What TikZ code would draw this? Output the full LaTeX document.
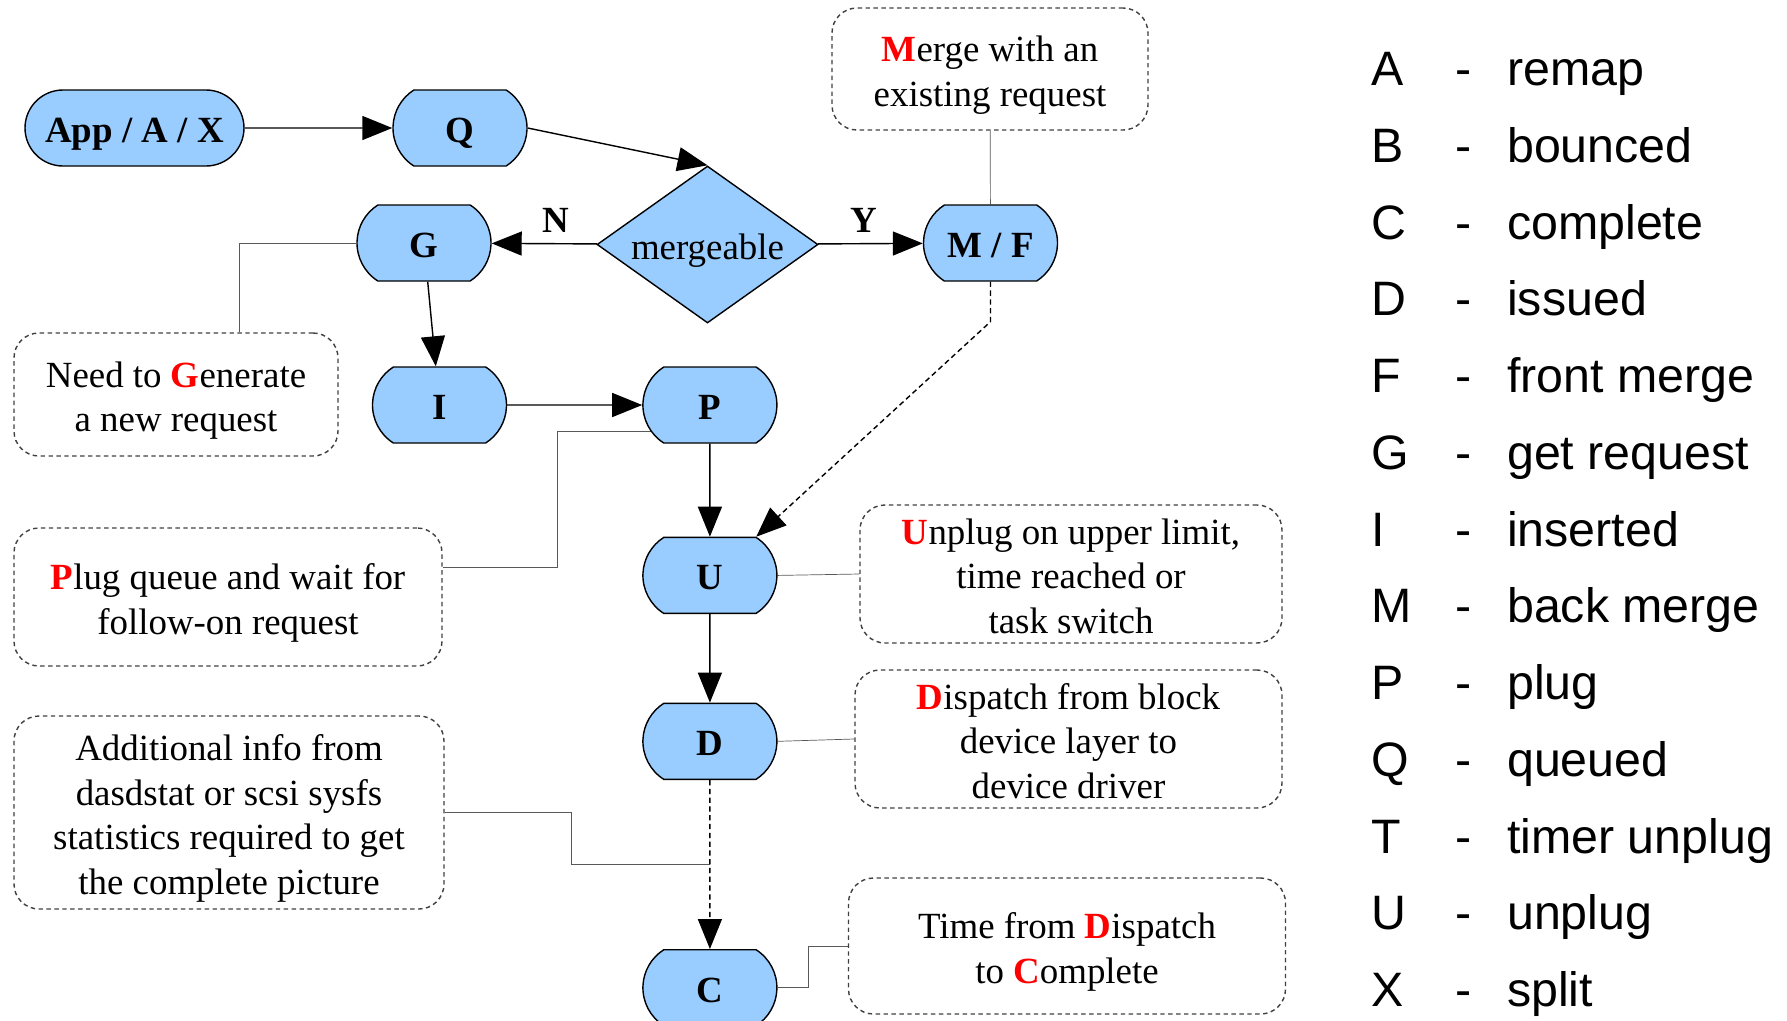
\documentclass[tikz,border=0pt]{standalone}
\usepackage{fontspec}
\setmainfont{Liberation Serif}
\newfontfamily\legendfont{Liberation Sans}
\usetikzlibrary{shapes.geometric,shapes.misc,arrows.meta,positioning,calc,backgrounds}
\definecolor{stateblue}{HTML}{99CCFF}
\newcommand{\hl}[1]{\textcolor{red}{\textbf{#1}}}
% lower the lines of a note a little inside its frame
\newcommand{\notetext}[1]{\raisebox{-0.12cm}[\height][\depth]{\begin{tabular}{@{}c@{}}#1\end{tabular}}}

\begin{document}
\begin{tikzpicture}[>={Triangle[length=0.6cm,width=0.48cm]}, line width=0.8pt,
    state/.style={draw=black, fill=stateblue, rounded rectangle,
                  rounded rectangle arc length=115, minimum width=2.68cm,
                  minimum height=1.52cm, inner sep=0pt,
                  text height=0.66cm, text depth=0.08cm,
                  font=\fontsize{21}{26}\selectfont\bfseries},
    decide/.style={draw=black, fill=stateblue, diamond, aspect=1.41,
                   minimum width=4.42cm, minimum height=3.14cm, inner sep=0pt,
                   text height=0.66cm, text depth=0.08cm,
                   font=\fontsize{21}{26}\selectfont},
    note/.style={draw=black!75, dash pattern=on 2.5pt off 2pt,
                 rounded corners=0.5cm, inner sep=0pt,
                 font=\fontsize{21}{25.5}\selectfont},
    link/.style={draw=black!65},
    legend/.style={font=\legendfont\fontsize{27.5}{32}\selectfont, inner sep=0pt}]
  \useasboundingbox (0,0) rectangle (35.74,-20.40);

  % main flow
  \node[state, rounded rectangle arc length=180, minimum width=4.38cm] (app)
    at (2.69,-2.56) {\makebox[2.86cm]{App / A / X}};
  \node[state] (Q) at (9.20,-2.56) {Q};
  \node[decide] (merge) at (14.15,-4.89) {mergeable};
  \node[state] (G) at (8.48,-4.86) {G};
  \node[state] (MF) at (19.81,-4.86) {M / F};
  \node[state] (I) at (8.79,-8.10) {I};
  \node[state, right=2.7cm of I] (P) {P};
  \node[state, below=1.86cm of P] (U) {U};
  \node[state, below=1.77cm of U] (D) {D};
  \node[state, below=3.38cm of D] (C) {C};
  \node[font=\fontsize{21}{26}\selectfont\bfseries] (no) at (11.12,-4.40) {N};
  \node[font=\fontsize{21}{26}\selectfont\bfseries] (yes) at (17.28,-4.40) {Y};

  % notes
  \node[note, minimum width=6.32cm, minimum height=2.44cm] (mergeNote) at (19.80,-1.38)
    {\notetext{\hl{M}erge with an\\existing request}};
  \node[note, minimum width=6.48cm, minimum height=2.46cm] (genNote) at (3.52,-7.89)
    {\notetext{Need to \hl{G}enerate\\a new request}};
  \node[note, minimum width=8.56cm, minimum height=2.76cm] (plugNote) at (4.56,-11.94)
    {\notetext{\hl{P}lug queue and wait for\\follow-on request}};
  \node[note, minimum width=8.44cm, minimum height=2.76cm] (unplugNote) at (21.42,-11.48)
    {\notetext{\hl{U}nplug on upper limit,\\time reached or\\task switch}};
  \node[note, minimum width=8.54cm, minimum height=2.76cm] (dispNote) at (21.37,-14.78)
    {\notetext{\hl{D}ispatch from block\\device layer to\\device driver}};
  \node[note, minimum width=8.60cm, minimum height=3.86cm] (addNote) at (4.58,-16.25)
    {\notetext{Additional info from\\dasdstat or scsi sysfs\\statistics required to get\\the complete picture}};
  \node[note, minimum width=8.74cm, minimum height=2.72cm] (timeNote) at (21.34,-18.92)
    {\notetext{Time from \hl{D}ispatch\\to \hl{C}omplete}};

  \coordinate (join) at ($(D.south)!0.5!(C.north)$);
  \coordinate (plugbend) at (11.14,-8.62);

  % flow arrows
  \draw[->] (app) -- (Q);
  \draw[->] (Q.east) -- (merge.north);
  \draw[->] (merge) -- (G);
  \draw[->] (merge) -- (MF);
  \draw[->] (G) -- (I);
  \draw[->] (I) -- (P);
  \draw[->] (P) -- (U);
  \draw[->] (U) -- (D);
  \draw[->, dash pattern=on 3pt off 2pt] (D) -- (C);
  \draw[->, dash pattern=on 3pt off 2pt] (MF.south) -- ++(0,-0.8) -- (U.north east);

  % note links
  \begin{scope}[on background layer]
    \draw[link] (mergeNote) -- (MF);
    \draw[link] (G.west) -| ([xshift=1.26cm]genNote.north);
    \draw[link] ([yshift=0.6cm]plugNote.east) -| (plugbend) -- (plugbend -| P.center);
    \draw[link] (U.east) -- (unplugNote.west);
    \draw[link] (D.east) -- (dispNote.west);
    \draw[link] (addNote.east) -| ([xshift=-2.77cm]join) -- (join);
    \draw[link] (C.east) -| ([xshift=-0.78cm]timeNote.west) -- (timeNote.west);
  \end{scope}

  % legend
  \foreach \key/\word [count=\i from 0] in {A/remap, B/bounced, C/complete,
      D/issued, F/front merge, G/get request, I/inserted, M/back merge,
      P/plug, Q/queued, T/timer unplug, U/unplug, X/split} {
    \node[legend, anchor=base west] (key\i) at (27.42,{-1.71-\i*1.535}) {\key};
    \node[legend, anchor=base] (dash\i) at (29.27,{-1.71-\i*1.535}) {-};
    \node[legend, anchor=base west] (word\i) at (30.13,{-1.71-\i*1.535}) {\word};
  }
\end{tikzpicture}
\end{document}
